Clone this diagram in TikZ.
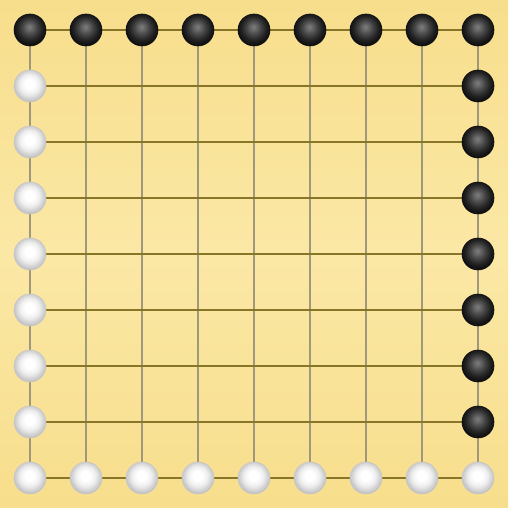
\documentclass[tikz,border=0pt]{standalone}
\usepackage{tikz}
\usetikzlibrary{shadings}
\definecolor{boardYellow}{RGB}{247,222,140}
\definecolor{boardLight}{RGB}{251,232,165}
\definecolor{rowLine}{RGB}{135,118,40}
\definecolor{colLine}{RGB}{160,152,125}
\pgfdeclareradialshading{blackglow}{\pgfqpoint{-1bp}{5bp}}{%
  color(0bp)=(black!52); color(3bp)=(black!56);
  color(13bp)=(black!76); color(20bp)=(black!88); color(26bp)=(black!94);
  color(50bp)=(black!95)}
\pgfdeclareradialshading{whiteglow}{\pgfqpoint{-1bp}{4bp}}{%
  color(0bp)=(white); color(7bp)=(white);
  color(15bp)=(black!6); color(22bp)=(black!18); color(29bp)=(black!30);
  color(50bp)=(black!30)}
\tikzset{
  hline/.style={draw=rowLine,line width=0.8pt},
  vline/.style={draw=colLine,line width=0.8pt},
  blackstone/.style={circle,minimum size=0.5714cm,inner sep=0pt,
    draw=black!95,line width=0.3pt,shading=blackglow},
  whitestone/.style={circle,minimum size=0.5714cm,inner sep=0pt,
    draw=black!22,line width=0.3pt,shading=whiteglow}
}
\begin{document}
\begin{tikzpicture}
  % board
  \useasboundingbox (-0.5357,-0.5357) rectangle (8.5357,8.5357);
  \shade[top color=boardYellow,bottom color=boardYellow,middle color=boardLight]
    (-0.5357,-0.5357) rectangle (8.5357,8.5357);
  % grid
  \foreach \i in {0,...,8} {
    \draw[vline] (\i,0) -- (\i,8);
  }
  \foreach \i in {0,...,8} {
    \draw[hline] (0,\i) -- (8,\i);
  }
  % black stones: top row and right column
  \foreach \i in {0,...,8} {
    \node[blackstone] (top\i) at (\i,8) {};
  }
  \foreach \j in {1,...,7} {
    \node[blackstone] (right\j) at (8,\j) {};
  }
  % white stones: bottom row and left column
  \foreach \i in {0,...,8} {
    \node[whitestone] (bottom\i) at (\i,0) {};
  }
  \foreach \j in {1,...,7} {
    \node[whitestone] (left\j) at (0,\j) {};
  }
\end{tikzpicture}
\end{document}
